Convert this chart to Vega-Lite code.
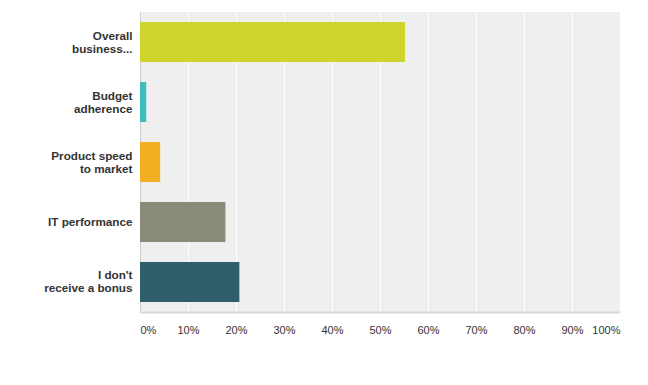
{
  "$schema": "https://vega.github.io/schema/vega-lite/v6.json",
  "autosize": "none",
  "width": 480,
  "height": 300,
  "padding": {"left": 140, "top": 12, "right": 28, "bottom": 73},
  "background": "#ffffff",
  "config": {
    "view": {"fill": "#efefef", "stroke": null},
    "font": "Liberation Sans"
  },
  "data": {
    "values": [
      {"answer": "Overall\nbusiness...", "pct": 0.552, "color": "#cfd42b"},
      {"answer": "Budget\nadherence", "pct": 0.013, "color": "#3dbdbe"},
      {"answer": "Product speed\nto market", "pct": 0.042, "color": "#f4ae22"},
      {"answer": "IT performance", "pct": 0.178, "color": "#8a8b79"},
      {"answer": "I don't\nreceive a bonus", "pct": 0.207, "color": "#2e5f6b"}
    ]
  },
  "mark": {"type": "bar"},
  "encoding": {
    "y": {
      "field": "answer",
      "type": "nominal",
      "sort": null,
      "scale": {"paddingInner": 0.3333, "paddingOuter": 0.1667},
      "axis": {
        "title": null,
        "ticks": false,
        "labelPadding": 8,
        "labelFont": "Liberation Sans",
        "labelFontSize": 11.7,
        "labelFontWeight": "bold",
        "labelColor": "#333333",
        "labelLineHeight": 13,
        "labelExpr": "split(datum.label, '\\n')",
        "labelOffset": {"condition": {"test": "datum.value === 'IT performance'", "value": 0}, "value": -6.5},
        "domainColor": "#cccccc",
        "domainWidth": 1,
        "grid": false
      }
    },
    "x": {
      "field": "pct",
      "type": "quantitative",
      "scale": {"domain": [0, 1], "nice": false},
      "axis": {
        "title": null,
        "format": ".0%",
        "values": [0, 0.1, 0.2, 0.3, 0.4, 0.5, 0.6, 0.7, 0.8, 0.9, 1],
        "ticks": false,
        "labelPadding": 12,
        "labelFlush": true,
        "labelFont": "Liberation Sans",
        "labelFontSize": 11,
        "labelColor": "#333333",
        "domainColor": "#d9d9d9",
        "domainWidth": 2,
        "grid": true,
        "gridColor": "#ffffff",
        "gridWidth": 1,
        "gridOpacity": 1
      }
    },
    "color": {"field": "color", "type": "nominal", "scale": null, "legend": null}
  }
}
